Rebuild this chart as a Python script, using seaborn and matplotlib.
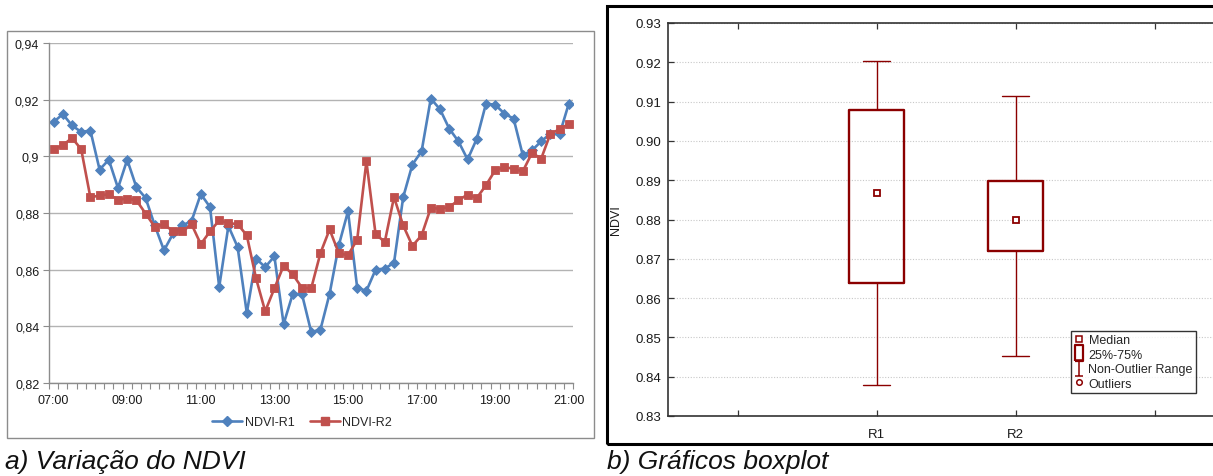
import numpy as np
import pandas as pd
import matplotlib
matplotlib.use("Agg")
import matplotlib.pyplot as plt
from matplotlib.lines import Line2D
from matplotlib.patches import Rectangle
from matplotlib.path import Path
import seaborn as sns

# ---- data -------------------------------------------------------------
# readings every 15 minutes from 07:00 to 21:00
times = pd.date_range("07:00", "21:00", freq="15min").strftime("%H:%M").tolist()

ndvi_r1 = [0.9121, 0.9149, 0.9109, 0.9086, 0.9091, 0.8953, 0.8988, 0.8888, 0.8988, 0.8891,
           0.8853, 0.8756, 0.8668, 0.8728, 0.8756, 0.8772, 0.8867, 0.8821, 0.8539, 0.8754,
           0.8680, 0.8447, 0.8639, 0.8609, 0.8647, 0.8408, 0.8515, 0.8513, 0.8380, 0.8388,
           0.8515, 0.8686, 0.8806, 0.8536, 0.8525, 0.8600, 0.8604, 0.8624, 0.8856, 0.8971,
           0.9018, 0.9204, 0.9166, 0.9098, 0.9053, 0.8989, 0.9062, 0.9186, 0.9182, 0.9151,
           0.9133, 0.9004, 0.9021, 0.9053, 0.9080, 0.9078, 0.9186]

ndvi_r2 = [0.9025, 0.9039, 0.9065, 0.9025, 0.8855, 0.8862, 0.8866, 0.8847, 0.8851, 0.8845,
           0.8798, 0.8751, 0.8760, 0.8735, 0.8735, 0.8760, 0.8690, 0.8735, 0.8774, 0.8764,
           0.8761, 0.8721, 0.8570, 0.8453, 0.8534, 0.8614, 0.8583, 0.8536, 0.8534, 0.8658,
           0.8742, 0.8658, 0.8651, 0.8706, 0.8982, 0.8725, 0.8698, 0.8856, 0.8756, 0.8684,
           0.8721, 0.8818, 0.8815, 0.8821, 0.8845, 0.8865, 0.8853, 0.8898, 0.8951, 0.8962,
           0.8956, 0.8947, 0.9012, 0.8992, 0.9080, 0.9095, 0.9115]

series_names = ["NDVI-R1", "NDVI-R2"]
regions = ["R1", "R2"]

left_yticks = [0.82, 0.84, 0.86, 0.88, 0.90, 0.92, 0.94]
left_yticklabels = ["0,82", "0,84", "0,86", "0,88", "0,9", "0,92", "0,94"]
left_xtick_hours = ["07:00", "09:00", "11:00", "13:00", "15:00", "17:00", "19:00", "21:00"]

right_yticks = [0.83, 0.84, 0.85, 0.86, 0.87, 0.88, 0.89, 0.90, 0.91, 0.92, 0.93]

legend_box_labels = ["Median", "25%-75%", "Non-Outlier Range", "Outliers"]

caption_a = "a) Variação do NDVI"
caption_b = "b) Gráficos boxplot"

# ---- long-form tables -------------------------------------------------
idx = np.arange(len(times))
lines_df = pd.DataFrame({
    "pos": np.concatenate([idx, idx]),
    "ndvi": ndvi_r1 + ndvi_r2,
    "serie": [series_names[0]] * len(idx) + [series_names[1]] * len(idx),
})
box_df = pd.DataFrame({
    "region": [regions[0]] * len(ndvi_r1) + [regions[1]] * len(ndvi_r2),
    "ndvi": ndvi_r1 + ndvi_r2,
})

# ---- figure -----------------------------------------------------------
W, H = 1213, 477
sns.set_theme(style="white")
plt.rcParams["font.family"] = ["Liberation Sans", "DejaVu Sans"]

fig = plt.figure(figsize=(W / 100, H / 100), dpi=100)
fig.patch.set_facecolor("white")


def px_axes(x0, y_top, x1, y_bot):
    return fig.add_axes([x0 / W, 1 - y_bot / H, (x1 - x0) / W, (y_bot - y_top) / H])


# outer frames of the two panels
fig.add_artist(Rectangle((7 / W, 1 - 439 / H), (594 - 7) / W, (439 - 32) / H,
                         transform=fig.transFigure, fill=False, ec="#8c8c8c", lw=1.0))
fig.add_artist(Rectangle((607 / W, 1 - 445 / H), (1235 - 607) / W, (445 - 7) / H,
                         transform=fig.transFigure, fill=False, ec="black", lw=2.2))

# ---- panel a: NDVI time series ---------------------------------------
axA = px_axes(49, 44, 573.4, 384)
blue, red = "#4F81BD", "#C0504D"
sns.lineplot(data=lines_df, x="pos", y="ndvi", hue="serie", style="serie",
             palette={series_names[0]: blue, series_names[1]: red},
             markers={series_names[0]: "D", series_names[1]: "s"},
             dashes=False, linewidth=1.9, markersize=5.5, markeredgewidth=0.6,
             ax=axA, legend=False)
for ln, name in zip(axA.get_lines(), series_names):
    ln.set_markeredgecolor(blue if name == series_names[0] else red)

axA.set_xlim(-0.5, len(times) - 0.5)
axA.set_ylim(0.82, 0.94)
axA.set_yticks(left_yticks)
axA.set_yticklabels(left_yticklabels)
axA.set_xticks([times.index(t) for t in left_xtick_hours])
axA.set_xticklabels(left_xtick_hours)
axA.set_xticks(np.arange(-0.5, len(times), 1), minor=True)
axA.tick_params(axis="x", which="major", length=0, pad=8, labelsize=9, labelcolor="#1a1a1a")
axA.tick_params(axis="x", which="minor", length=4, width=0.8, color="#8c8c8c", direction="out",
                bottom=True)
axA.tick_params(axis="y", length=4, width=0.8, color="#8c8c8c", direction="out", left=True,
                labelsize=9, labelcolor="#1a1a1a", pad=3)
axA.yaxis.grid(True, color="#b3b3b3", lw=1.0)
axA.xaxis.grid(False)
axA.set_axisbelow(True)
for side in ("top", "right"):
    axA.spines[side].set_visible(False)
for side in ("left", "bottom"):
    axA.spines[side].set_color("#8c8c8c")
    axA.spines[side].set_linewidth(1.0)
axA.set_xlabel("")
axA.set_ylabel("")

legA_handles = [
    Line2D([], [], color=blue, lw=1.9, marker="D", ms=5.5, mec=blue),
    Line2D([], [], color=red, lw=1.9, marker="s", ms=5.5, mec=red),
]
fig.legend(legA_handles, series_names, loc="center", ncol=2,
           bbox_to_anchor=(302 / W, 1 - 423 / H), frameon=False, fontsize=9,
           handlelength=2.4, handletextpad=0.2, columnspacing=1.2)

# ---- panel b: boxplots -------------------------------------------------
dark_red = "#8B0000"
axB = px_axes(668, 24, 1363, 417)
sns.boxplot(data=box_df, x="region", y="ndvi", order=regions, width=0.4, whis=(0, 100),
            fill=False, color=dark_red, linewidth=1.0,
            boxprops={"linewidth": 1.7}, medianprops={"visible": False},
            whiskerprops={"linewidth": 1.0}, capprops={"linewidth": 1.0},
            ax=axB)
sns.pointplot(data=box_df, x="region", y="ndvi", order=regions, estimator="median",
              errorbar=None, markers="s", linestyles="none", color=dark_red,
              markerfacecolor="white", markeredgecolor=dark_red, markersize=4.5,
              markeredgewidth=1.3, ax=axB)

axB.set_xlim(-1.5, 3.5)
axB.set_xticks([-1, 0, 1, 2, 3])
axB.set_xticklabels(["", regions[0], regions[1], "", ""])
axB.set_ylim(0.83, 0.93)
axB.set_yticks(right_yticks)
axB.set_yticklabels([f"{v:.2f}" for v in right_yticks])
axB.tick_params(axis="both", direction="in", length=4, width=0.9, color="#333333",
                top=True, right=True, bottom=True, left=True, labelsize=9.5,
                labelcolor="#1a1a1a")
axB.tick_params(axis="x", pad=9)
axB.tick_params(axis="y", pad=5)
axB.yaxis.grid(True, color="#c8c8c8", lw=0.8, ls=(0, (1, 1.5)))
axB.xaxis.grid(False)
axB.set_axisbelow(True)
for side in axB.spines.values():
    side.set_color("#333333")
    side.set_linewidth(1.2)
axB.set_xlabel("")
axB.set_ylabel("NDVI", fontsize=9, color="#1a1a1a")
axB.yaxis.set_label_coords((622 - 668) / (1363 - 668), 0.5)

# legend describing the box elements
ibeam = Path([(0, -1), (0, 1), (-0.5, 1), (0.5, 1), (-0.5, -1), (0.5, -1)],
             [Path.MOVETO, Path.LINETO, Path.MOVETO, Path.LINETO, Path.MOVETO, Path.LINETO])
tall_rect = [(-0.5, -1), (0.5, -1), (0.5, 1), (-0.5, 1), (-0.5, -1)]
legB_handles = [
    Line2D([], [], ls="none", marker="s", ms=4, mfc="white", mec=dark_red, mew=1.1),
    Line2D([], [], ls="none", marker=tall_rect, ms=12, mfc="white", mec=dark_red, mew=1.6),
    Line2D([], [], ls="none", marker=ibeam, ms=12, mfc="none", mec=dark_red, mew=1.1),
    Line2D([], [], ls="none", marker="o", ms=4, mfc="white", mec=dark_red, mew=1.1),
]
legB = fig.legend(legB_handles, legend_box_labels, loc="upper left",
                  bbox_to_anchor=(1071 / W, 1 - 332 / H), fontsize=9,
                  frameon=True, fancybox=False, handlelength=0.8, handletextpad=0.35,
                  labelspacing=0.2, borderpad=0.25, borderaxespad=0)
legB.get_frame().set_edgecolor("black")
legB.get_frame().set_linewidth(1.0)

# ---- captions ----------------------------------------------------------
fig.text(5 / W, 1 - 462 / H, caption_a, fontsize=19, style="italic", va="center",
         ha="left", color="#111111")
fig.text(607 / W, 1 - 462 / H, caption_b, fontsize=19, style="italic", va="center",
         ha="left", color="#111111")

fig.savefig("out.png", dpi=100, facecolor="white")
